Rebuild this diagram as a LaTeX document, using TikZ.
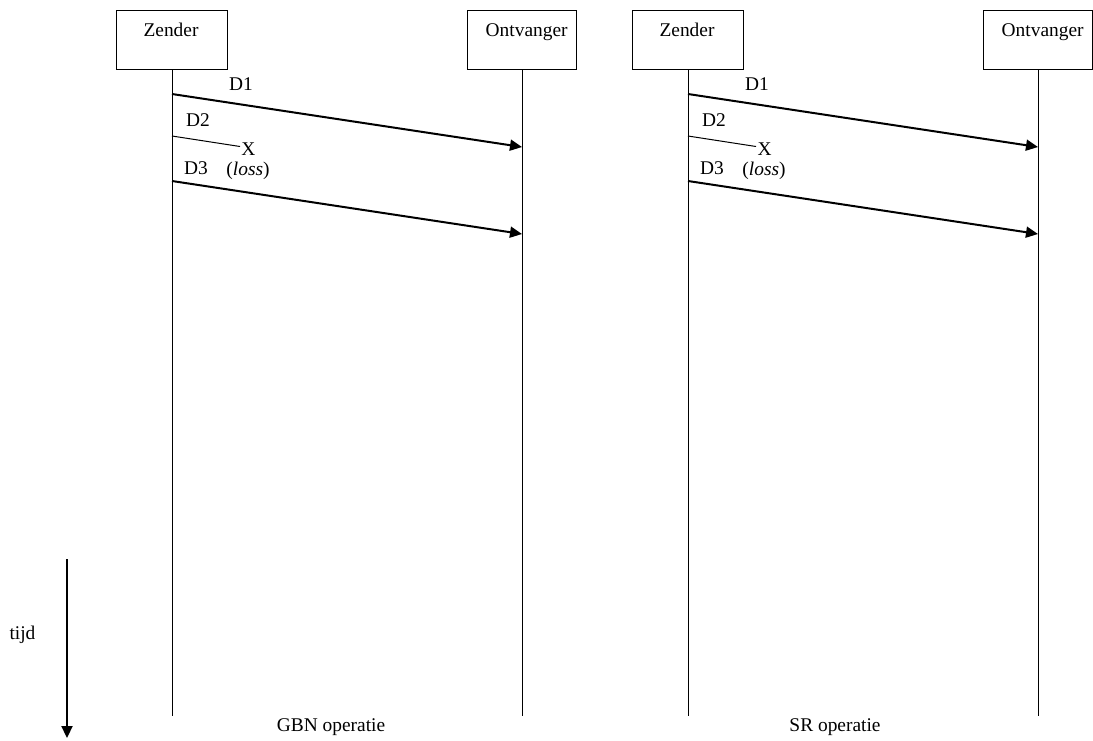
\documentclass[tikz,border=0pt]{standalone}
\usepackage{fontspec}
\setmainfont{Liberation Serif}
\usetikzlibrary{arrows.meta,positioning}

\begin{document}
\begin{tikzpicture}[
x=0.5pt, y=-0.5pt,
every node/.style={font=\fontsize{9.7}{11.6}\selectfont, inner sep=0pt},
party/.style={draw, line width=0.5pt, minimum width=55.5pt, minimum height=29.5pt},
lifeline/.style={line width=0.5pt},
msg/.style={line width=1pt, -{Triangle[length=6pt, width=5.5pt]}},
lost/.style={line width=0.5pt}
]
\useasboundingbox (0,0) rectangle (1093,740);

\foreach \off/\proto/\cx in {0/GBN/331, 516/SR/835}{
% boxes and lifelines
\node[party] (z\proto) at (172+\off,39.5) {};
\node[party, minimum width=54.5pt] (o\proto) at (522+\off,39.5) {};
\node[anchor=base] (zt\proto) at (171+\off,36) {Zender};
\node[anchor=base east] (ot\proto) at (568+\off,36) {Ontvanger};
\coordinate (zb\proto) at (172+\off,716);
\coordinate (ob\proto) at (522+\off,716);
\draw[lifeline] (z\proto.south) -- (zb\proto);
\draw[lifeline] (o\proto.south) -- (ob\proto);

% D1
\coordinate (s1\proto) at (172+\off,94);
\coordinate (r1\proto) at (522+\off,147);
\draw[msg] (s1\proto) -- (r1\proto);
\node[anchor=base] (d1\proto) at (241+\off,90) {D1};

% D2, lost on the way
\coordinate (s2\proto) at (172+\off,136);
\node[anchor=base] (x\proto) at (248.5+\off,155.5) {X};
\coordinate (e2\proto) at (240+\off,146.5);
\draw[lost] (s2\proto) -- (e2\proto);
\node[anchor=base] (d2\proto) at (198+\off,126.5) {D2};
\node[anchor=base] (loss\proto) at (248+\off,175.5) {(\textit{loss})};

% D3
\coordinate (s3\proto) at (172+\off,181);
\coordinate (r3\proto) at (522+\off,234);
\draw[msg] (s3\proto) -- (r3\proto);
\node[anchor=base] (d3\proto) at (196+\off,174) {D3};

\node[anchor=base] (op\proto) at (\cx,731) {\proto{} operatie};
}

% time axis
\coordinate (t0) at (67,559);
\coordinate (t1) at (67,738);
\draw[line width=1.1pt, -{Triangle[length=6pt, width=5.5pt]}] (t0) -- (t1);
\node[anchor=base] (tijd) at (22.5,639) {tijd};
\end{tikzpicture}
\end{document}
